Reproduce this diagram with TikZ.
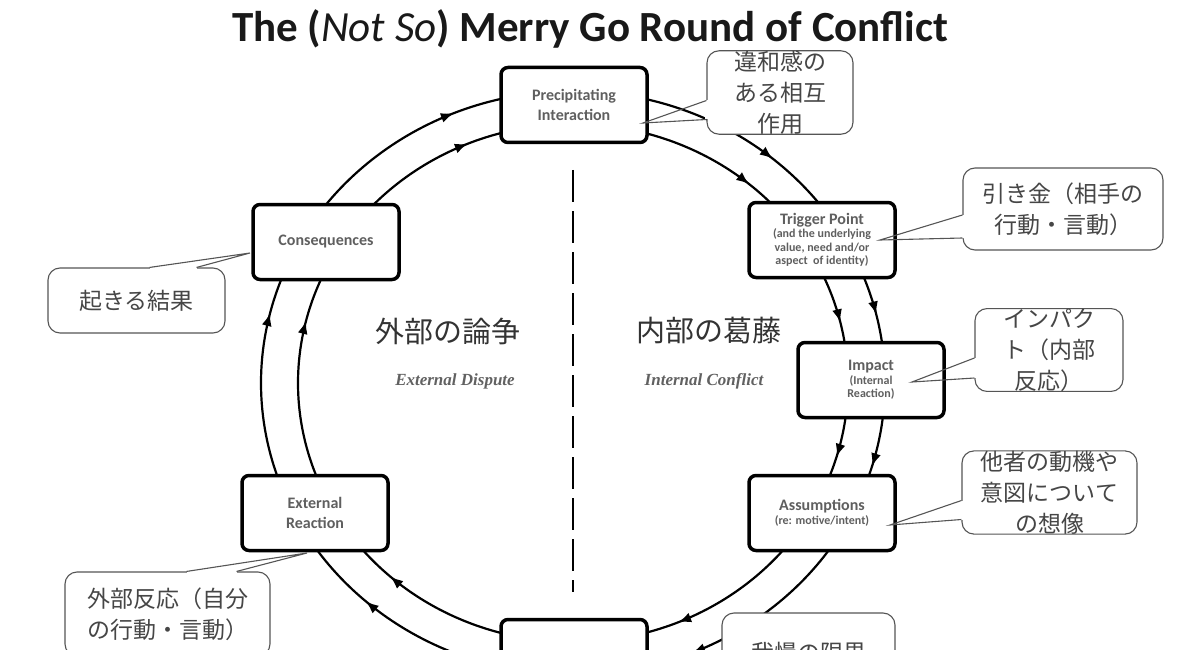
\documentclass[tikz,border=0pt]{standalone}
\usepackage{fontspec}
\setmainfont{Carlito}
\newfontfamily\jpfont{Noto Sans CJK JP}
\newfontfamily\timesfont{Liberation Serif}
\usetikzlibrary{arrows.meta,decorations.markings,calc}
\definecolor{boxtext}{RGB}{95,95,95}
\definecolor{calltext}{RGB}{70,70,70}
\definecolor{callline}{RGB}{85,85,85}
\newcommand\headline[1]{{\fontsize{16}{19}\selectfont #1}}
\newcommand\calltail[3]{\draw[white,line width=2.2pt] (#1) -- (#2); \draw[tailline] (#1) -- (#3) -- (#2);}
\tikzset{
  stage/.style={draw, line width=3.5pt, rounded corners=7pt, fill=white,
    minimum width=146pt, minimum height=75pt, align=center, text=boxtext,
    font=\bfseries\fontsize{16}{20}\selectfont},
  stagesub/.style={stage, font=\bfseries\fontsize{12}{13.5}\selectfont},
  note/.style={draw=callline, line width=1.1pt, rounded corners=12pt, fill=white,
    inner sep=0pt, align=center, text=calltext, font=\jpfont\fontsize{23}{31}\selectfont},
  tailline/.style={draw=callline, line width=1.1pt},
  ring/.style={line width=2.2pt, postaction={decorate},
    decoration={markings, mark=at position #1 with {\arrow{Latex[length=13pt,width=10pt]}}}},
  divider/.style={line width=2.6pt, dash pattern=on 32pt off 9pt},
  sidejp/.style={text=black!80, font=\jpfont\fontsize{29}{34}\selectfont},
  sideen/.style={text=black!62, font=\timesfont\bfseries\itshape\fontsize{17}{20}\selectfont}
}
\begin{document}
\begin{tikzpicture}[x=1pt,y=-1pt]
\useasboundingbox (0,0) rectangle (1200,650);
\clip (0,0) rectangle (1200,650);
\coordinate (mid) at (573,383);
\foreach \a/\b/\p in {90/30/0.67, 30/0/0.55, 0/-30/0.55, -30/-90/0.62, -90/-150/0.7, -150/-210/0.73, -210/-270/0.62}{
  \draw[ring=\p] (mid) ++(\a:312pt and 292pt) arc[start angle=\a, end angle=\b, x radius=312pt, y radius=292pt];
  \draw[ring=\p] (mid) ++(\a:275pt and 259pt) arc[start angle=\a, end angle=\b, x radius=275pt, y radius=259pt];
}
\coordinate (divtop) at (573,170);
\coordinate (divbot) at (573,592);
\draw[divider] (divtop) -- (divbot);

\node[font=\bfseries\fontsize{43}{48}\selectfont, text=black!90, inner sep=0pt] (title) at (590,29) {The ({\mdseries\itshape Not So}) Merry Go Round of Conflict};

\node[stage] (prec) at (574,105) {Precipitating\\Interaction};
\node[stagesub] (trig) at (822,240) {\headline{Trigger Point}\\(and the underlying\\value, need and/or\\aspect\ \ of identity)};
\node[stagesub] (impact) at (871,380) {\headline{Impact}\\(Internal\\Reaction)};
\node[stagesub] (assum) at (822,513) {\headline{Assumptions}\\(re: motive/intent)};
\node[stage] (limit) at (574,657) {};
\node[stage] (extreact) at (315,513) {External\\Reaction};
\node[stage] (conseq) at (326,242) {Consequences};

\node[sidejp] (extjp) at (448,331) {外部の論争};
\node[sideen] (exten) at (455,381) {External Dispute};
\node[sidejp] (intjp) at (709,331) {内部の葛藤};
\node[sideen] (inten) at (704,381) {Internal Conflict};

\node[note, minimum width=146pt, minimum height=81pt] (c1) at (780,92.5) {違和感の\\ある相互\\作用};
\node[note, minimum width=200pt, minimum height=82pt] (c2) at (1063,209) {引き金（相手の\\行動・言動）};
\node[note, minimum width=148pt, minimum height=80pt] (c3) at (1049,350) {インパク\\ト（内部\\反応）};
\node[note, minimum width=175pt, minimum height=81pt] (c4) at (1049.5,492.5) {他者の動機や\\意図について\\の想像};
\node[note, minimum width=177pt, minimum height=65pt] (c5) at (136.5,300.5) {起きる結果};
\node[note, minimum width=205pt, minimum height=84pt] (c6) at (167.5,614) {外部反応（自分\\の行動・言動）};
\node[note, minimum width=173pt, minimum height=80pt] (c7) at (808.5,653) {我慢の限界};

\calltail{$(c1.west)+(0,8)$}{$(c1.west)+(0,27)$}{$(prec.center)+(69,18)$}
\calltail{$(c2.west)+(0,6)$}{$(c2.west)+(0,29)$}{$(trig.center)+(58,0)$}
\calltail{$(c3.west)+(0,8)$}{$(c3.west)+(0,28)$}{$(impact.center)+(41,2)$}
\calltail{$(c4.west)+(0,8)$}{$(c4.west)+(0,27)$}{$(assum.center)+(68,12)$}
\calltail{$(c5.north)+(13,0)$}{$(c5.north)+(60,0)$}{$(conseq.center)+(-76,11)$}
\calltail{$(c6.north)+(19,0)$}{$(c6.north)+(69,0)$}{$(extreact.center)+(-8,40)$}
\calltail{$(c7.west)+(0,12)$}{$(c7.west)+(0,30)$}{$(limit.center)+(66,15)$}
\end{tikzpicture}
\end{document}
